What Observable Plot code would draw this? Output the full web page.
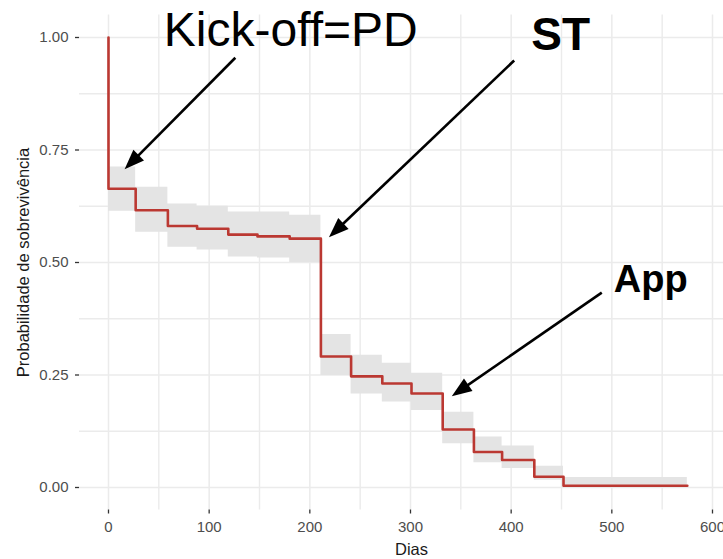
<!DOCTYPE html>
<html>
<head>
<meta charset="utf-8">
<script src="https://cdn.jsdelivr.net/npm/d3@7"></script>
<script src="https://cdn.jsdelivr.net/npm/@observablehq/plot@0.6"></script>
<style>
  html, body { margin: 0; padding: 0; background: #ffffff; }
  #chart svg { display: block; }
</style>
</head>
<body>
<div id="chart"></div>
<script>
// ---- data ----
const times = [0, 27, 59, 88, 119, 148, 180, 211, 241, 272, 301, 332, 363, 391, 423, 452, 575];
const surv  = [0.664, 0.616, 0.581, 0.575, 0.562, 0.558, 0.553, 0.291, 0.247, 0.231, 0.209, 0.129, 0.079, 0.061, 0.024, 0.004, 0.004];
const upper = [0.712, 0.667, 0.630, 0.625, 0.612, 0.612, 0.605, 0.340, 0.294, 0.276, 0.254, 0.167, 0.112, 0.092, 0.047, 0.022, 0.022];
const lower = [0.614, 0.567, 0.534, 0.528, 0.512, 0.510, 0.500, 0.249, 0.208, 0.190, 0.171, 0.097, 0.055, 0.042, 0.016, 0.000, 0.000];
const startSurv = 1.0;

const xTicks = [0, 100, 200, 300, 400, 500, 600];
const xMinor = [50, 150, 250, 350, 450, 550];
const yTicks = [0, 0.25, 0.5, 0.75, 1];
const yMinor = [0.125, 0.375, 0.625, 0.875];

const xTitle = "Dias";
const yTitle = "Probabilidade de sobrevivência";

const labels = ["Kick-off=PD", "ST", "App"];
const labelX = [55, 420, 502];
const labelY = [0.982, 0.973, 0.434];

const arrowTailX = [126, 403, 490];
const arrowTailY = [0.955, 0.949, 0.433];
const arrowTipX  = [16, 219, 341];
const arrowTipY  = [0.707, 0.556, 0.203];

// ---- layout ----
const W = 723, H = 559;
const mL = 79, mR = -20, mT = 14.5, mB = 49.5;
const xDomain = [-28.8, 630.8], yDomain = [-0.05, 1.05];
const xRange = [mL, W - mR], yRange = [H - mB, mT];
const kx = (xRange[1] - xRange[0]) / (xDomain[1] - xDomain[0]);
const ky = (yRange[1] - yRange[0]) / (yDomain[1] - yDomain[0]);

const lineData = [{t: times[0], s: startSurv}, ...times.map((t, i) => ({t, s: surv[i]}))];
const bandData = times.map((t, i) => ({t, lo: lower[i], hi: upper[i]}));

const headLen = 20, headHalf = 7.5;
const arrows = labels.map((l, i) => {
  const dxp = (arrowTipX[i] - arrowTailX[i]) * kx;
  const dyp = (arrowTipY[i] - arrowTailY[i]) * ky;
  const len = Math.hypot(dxp, dyp);
  const ux = dxp / len, uy = dyp / len;
  const angle = Math.atan2(ux, -uy) * 180 / Math.PI;
  return {
    x1: arrowTailX[i], y1: arrowTailY[i],
    x2: arrowTipX[i] - ux * headLen * 0.6 / kx,
    y2: arrowTipY[i] - uy * headLen * 0.6 / ky,
    tx: arrowTipX[i], ty: arrowTipY[i], angle
  };
});
const arrowHead = {
  draw(ctx) {
    ctx.moveTo(0, 0);
    ctx.lineTo(-headHalf, headLen);
    ctx.lineTo(headHalf, headLen);
    ctx.closePath();
  }
};
const textData = labels.map((l, i) => ({l, x: labelX[i], y: labelY[i]}));

const font = "'Liberation Sans', Arial, Helvetica, sans-serif";
const gridColor = "#ebebeb";

const plot = Plot.plot({
  width: W, height: H,
  marginLeft: mL, marginRight: mR, marginTop: mT, marginBottom: mB,
  style: {fontFamily: font, background: "#ffffff"},
  x: {domain: xDomain, range: xRange, axis: null},
  y: {domain: yDomain, range: yRange, axis: null},
  marks: [
    Plot.ruleX(xMinor, {stroke: gridColor, strokeWidth: 1.4}),
    Plot.ruleX(xTicks, {stroke: gridColor, strokeWidth: 1.5}),
    Plot.ruleY(yMinor, {x1: xDomain[0], x2: xDomain[1], stroke: gridColor, strokeWidth: 1.4}),
    Plot.ruleY(yTicks, {x1: xDomain[0], x2: xDomain[1], stroke: gridColor, strokeWidth: 1.5}),
    Plot.areaY(bandData, {x: "t", y1: "lo", y2: "hi", curve: "step-after", fill: "#e4e4e4"}),
    Plot.line(lineData, {x: "t", y: "s", curve: "step-after", stroke: "#bb3832", strokeWidth: 2.6}),
    Plot.axisX(xTicks, {tickSize: 4, tickPadding: 7, fontSize: 15, fill: "#4d4d4d", stroke: "#333333", strokeWidth: 1.3, label: null}),
    Plot.axisY(yTicks, {tickSize: 4, tickPadding: 7, fontSize: 15, fill: "#4d4d4d", stroke: "#333333", strokeWidth: 1.3, tickFormat: d3.format(".2f"), label: null}),
    Plot.text([xTitle], {frameAnchor: "bottom", dy: 40, fontSize: 16.5, fill: "#1a1a1a", lineAnchor: "middle"}),
    Plot.text([yTitle], {frameAnchor: "left", dx: -56, rotate: -90, fontSize: 16.5, fill: "#1a1a1a", lineAnchor: "middle", textAnchor: "middle"}),
    Plot.link(arrows, {x1: "x1", y1: "y1", x2: "x2", y2: "y2", stroke: "#000000", strokeWidth: 2.6}),
    Plot.dot(arrows, {x: "tx", y: "ty", symbol: arrowHead, rotate: "angle", r: 10, fill: "#000000", stroke: "none"}),
    Plot.text(textData.slice(0, 1), {x: "x", y: "y", text: "l", textAnchor: "start", lineAnchor: "bottom", fontSize: 48, fill: "#000000"}),
    Plot.text(textData.slice(1, 2), {x: "x", y: "y", text: "l", textAnchor: "start", lineAnchor: "bottom", fontSize: 46, fontWeight: "bold", fill: "#000000"}),
    Plot.text(textData.slice(2, 3), {x: "x", y: "y", text: "l", textAnchor: "start", lineAnchor: "bottom", fontSize: 38, fontWeight: "bold", fill: "#000000"})
  ]
});
document.getElementById("chart").appendChild(plot);
</script>
</body>
</html>
